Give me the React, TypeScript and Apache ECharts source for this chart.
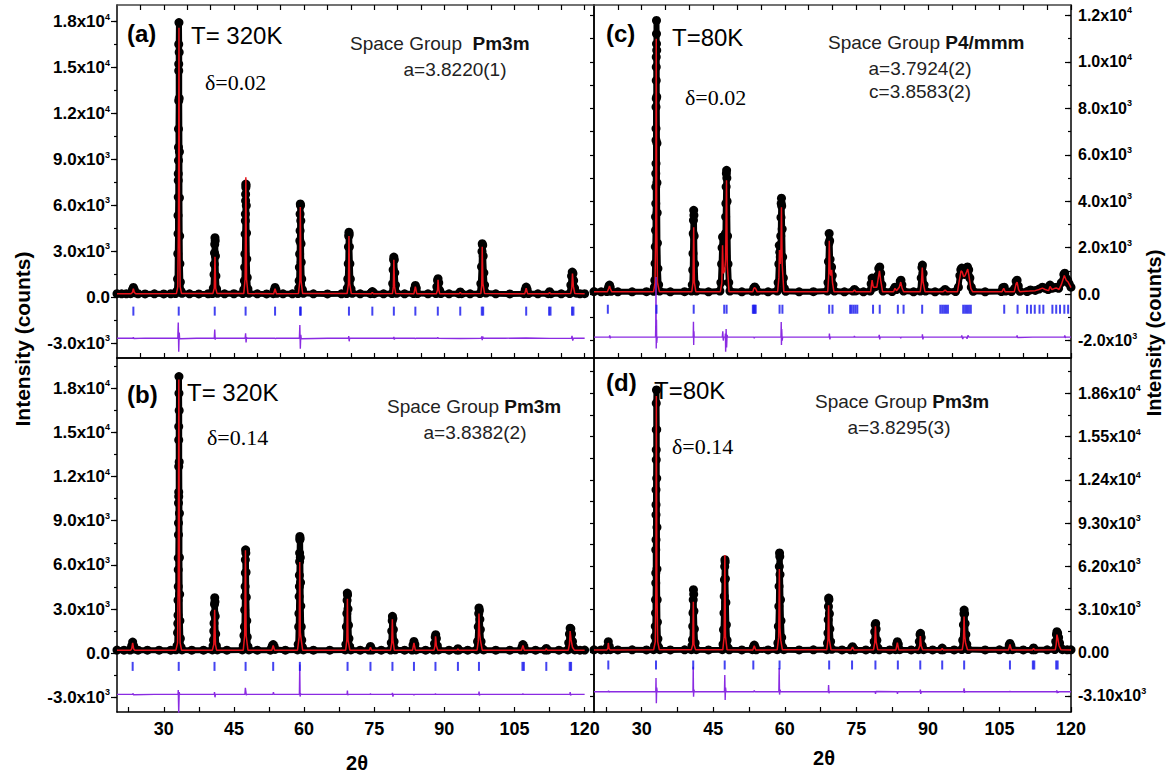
import React, { useEffect, useRef } from "react";
import * as echarts from "echarts";

type P = [number, number];

// ---------------- Panel (a): T = 320 K, delta = 0.02 ----------------
const obsA: P[] = [
  [20.0,240],[21.0,230],[22.0,235],[22.9,240],[23.1,300],[23.3,500],[23.5,650],[23.7,500],[23.9,300],
  [24.5,235],[26.0,225],[28.0,230],[30.0,225],[31.5,235],[32.5,250],
  [32.8,400],[32.95,1200],[33.0,2850],[33.05,4160],[33.05,5350],[33.1,6550],[33.1,7630],[33.1,8070],[33.15,8930],[33.15,9800],[33.15,11000],[33.2,12830],[33.2,14800],[33.2,15230],[33.2,16530],[33.25,17940],[33.3,16000],[33.3,13000],[33.35,9500],[33.35,6500],[33.4,4000],[33.45,2200],[33.55,1000],[33.7,400],[33.9,260],
  [35.5,230],[37.5,225],[39.5,235],[40.4,250],
  [40.6,600],[40.75,1500],[40.8,2160],[40.85,2900],[40.9,3460],[40.95,3900],[41.0,3700],[41.05,2700],[41.15,1400],[41.3,550],[41.5,260],
  [43.0,230],[45.0,235],[46.9,250],
  [47.1,500],[47.25,1090],[47.3,1960],[47.35,2830],[47.4,4130],[47.45,5000],[47.45,5440],[47.5,6300],[47.5,6740],[47.55,7170],[47.55,7400],[47.6,7300],[47.65,6000],[47.7,4200],[47.75,2500],[47.85,1300],[48.0,550],[48.2,260],
  [50.0,230],[52.0,225],[53.4,240],[53.6,450],[53.8,650],[54.0,480],[54.2,260],
  [55.5,230],[57.5,230],[58.7,250],
  [58.85,600],[58.95,1090],[59.0,1960],[59.05,2830],[59.1,3700],[59.15,4350],[59.15,5440],[59.2,6100],[59.25,6000],[59.3,5000],[59.35,3500],[59.4,2300],[59.5,1200],[59.65,500],[59.85,260],
  [62.0,230],[65.0,225],[68.0,230],[69.1,250],
  [69.25,600],[69.35,1200],[69.45,2200],[69.5,3300],[69.55,4000],[69.6,4250],[69.65,4100],[69.7,3300],[69.8,2200],[69.9,1200],[70.05,550],[70.3,260],
  [72.0,230],[74.2,240],[74.4,300],[74.6,380],[74.8,300],[75.0,240],
  [77.0,230],[78.8,250],[78.95,900],[79.05,1800],[79.15,2450],[79.2,2630],[79.3,2450],[79.4,1600],[79.55,800],[79.8,260],
  [81.5,230],[83.4,245],[83.6,550],[83.8,780],[84.0,600],[84.25,250],
  [86.5,230],[88.2,250],[88.4,700],[88.55,1100],[88.65,1220],[88.8,950],[89.0,450],[89.25,250],
  [91.0,230],[93.1,240],[93.4,350],[93.7,240],
  [95.5,230],[97.6,250],[97.8,900],[97.95,2000],[98.05,3000],[98.1,3500],[98.2,3400],[98.3,2700],[98.45,1600],[98.6,800],[98.9,280],
  [101.0,230],[104.0,225],[107.0,240],[107.3,500],[107.5,670],[107.7,520],[108.0,250],
  [110.0,230],[112.2,240],[112.5,370],[112.8,240],
  [115.0,230],[116.8,250],[117.05,800],[117.2,1400],[117.35,1650],[117.5,1550],[117.65,1100],[117.85,600],[118.2,270],
  [119.0,235],[120.0,240],
];
const calcA: P[] = [
  [20,240],[23.0,240],[23.3,320],[23.5,560],[23.7,320],[24.0,240],
  [32.7,245],[33.0,700],[33.15,5000],[33.25,17600],[33.35,5000],[33.5,700],[33.8,245],
  [40.5,245],[40.8,600],[40.95,2650],[41.1,600],[41.4,245],
  [47.1,245],[47.4,1200],[47.55,7850],[47.7,1200],[48.0,245],
  [53.5,240],[53.8,560],[54.1,240],
  [58.8,245],[59.1,1100],[59.2,5900],[59.35,1100],[59.7,245],
  [69.2,245],[69.5,900],[69.6,4000],[69.75,900],[70.1,245],
  [74.4,240],[74.6,330],[74.8,240],
  [78.9,245],[79.1,700],[79.2,2450],[79.35,700],[79.6,245],
  [83.5,240],[83.8,700],[84.1,240],
  [88.3,240],[88.55,500],[88.65,1150],[88.8,500],[89.0,240],
  [93.2,240],[93.4,330],[93.6,240],
  [97.8,245],[98.0,800],[98.1,3300],[98.25,900],[98.6,245],
  [107.2,240],[107.5,600],[107.8,240],
  [112.3,240],[112.5,330],[112.7,240],
  [117.0,245],[117.25,600],[117.4,1550],[117.6,700],[117.9,245],
  [120,240],
];
const diffA: P[] = [
  [20,-2670],[23.4,-2670],[23.5,-2600],[23.6,-2690],[26,-2660],[30,-2670],
  [33.0,-2670],[33.1,-1650],[33.2,-3550],[33.3,-2300],[33.4,-2700],[33.5,-2670],
  [37,-2670],[40.8,-2670],[40.9,-2100],[41.0,-2760],[41.1,-2670],
  [45,-2670],[47.4,-2670],[47.5,-2350],[47.6,-2950],[47.7,-2600],[47.8,-2670],
  [53.8,-2670],[53.9,-2720],[54.0,-2670],[56,-2670],
  [59.0,-2670],[59.1,-1800],[59.2,-3350],[59.3,-2450],[59.4,-2700],[59.5,-2670],
  [65,-2670],[69.5,-2670],[69.55,-2520],[69.65,-2870],[69.75,-2670],
  [74.6,-2670],[79.1,-2670],[79.2,-2580],[79.3,-2760],[79.4,-2670],
  [83.7,-2670],[83.8,-2720],[83.9,-2670],[88.5,-2670],[88.6,-2620],[88.7,-2670],[93.4,-2690],
  [97.9,-2670],[98.0,-2550],[98.1,-2800],[98.2,-2560],[98.3,-2670],
  [103,-2670],[107.5,-2650],[112.5,-2680],[117.2,-2670],[117.3,-2520],[117.45,-2820],[117.6,-2670],[120,-2670],
];
const braggA: number[] = [23.5, 33.2, 40.9, 47.5, 53.8, 59.15, 59.3, 69.6, 74.6, 79.2, 83.8, 88.6, 93.4, 98.0, 98.3, 107.5, 112.4, 112.7, 117.3, 117.6];
const braggLevelA = -900;
const yTicksA: number[] = [-3000, 0, 3000, 6000, 9000, 12000, 15000, 18000];
const yLabelsA: string[] = ["-3.0x10|3", "0.0", "3.0x10|3", "6.0x10|3", "9.0x10|3", "1.2x10|4", "1.5x10|4", "1.8x10|4"];

// ---------------- Panel (b): T = 320 K, delta = 0.14 ----------------
const obsB: P[] = [
  [20,210],[21.5,200],[22.8,215],[23.0,300],[23.15,500],[23.35,750],[23.55,500],[23.75,280],
  [24.5,205],[26.5,200],[29,200],[31.5,205],[32.6,230],
  [32.85,500],[32.95,1390],[33.0,2020],[33.05,2580],[33.05,3600],[33.1,4530],[33.1,5670],[33.1,6460],[33.15,8040],[33.15,8840],[33.15,10200],[33.2,10640],[33.2,10950],[33.2,12680],[33.2,14490],[33.2,15400],[33.25,17660],[33.25,18800],[33.3,16500],[33.3,13000],[33.35,9500],[33.35,6500],[33.4,4000],[33.45,2200],[33.55,1000],[33.7,400],[33.9,220],
  [36,200],[38.5,205],[40.4,220],
  [40.55,500],[40.65,900],[40.7,1500],[40.75,2040],[40.8,2700],[40.85,3320],[40.9,3770],[40.95,3500],[41.0,2500],[41.1,1300],[41.25,500],[41.45,220],
  [43.5,200],[46.8,220],
  [47.0,500],[47.15,1200],[47.25,1800],[47.3,2940],[47.35,3850],[47.4,4530],[47.45,5440],[47.45,6340],[47.5,7020],[47.55,6800],[47.6,5500],[47.65,3800],[47.75,2200],[47.85,1100],[48.0,450],[48.2,220],
  [50,200],[52.8,205],[53.0,300],[53.2,480],[53.4,580],[53.6,450],[53.8,250],
  [56,200],[58.6,220],
  [58.75,600],[58.85,1800],[58.9,2700],[58.95,3850],[59.0,4530],[59.0,5300],[59.05,6230],[59.05,6800],[59.1,7700],[59.1,7930],[59.15,7800],[59.2,6500],[59.25,4800],[59.3,3200],[59.4,1800],[59.5,900],[59.65,400],[59.85,220],
  [62,200],[65.5,205],[68.8,220],
  [68.95,600],[69.05,1800],[69.15,2700],[69.2,3600],[69.25,4080],[69.3,3950],[69.4,3000],[69.5,1900],[69.6,1000],[69.75,450],[70.0,220],
  [72,200],[73.9,210],[74.05,320],[74.2,460],[74.35,320],[74.55,210],
  [76.5,200],[78.5,215],[78.65,700],[78.75,1500],[78.85,2200],[78.9,2500],[79.0,2350],[79.1,1600],[79.25,800],[79.5,230],
  [81.5,200],[83.1,215],[83.3,550],[83.5,800],[83.7,580],[83.95,220],
  [86,200],[87.7,215],[87.9,650],[88.05,1100],[88.15,1250],[88.3,1000],[88.5,500],[88.75,220],
  [91,200],[92.7,210],[92.9,300],[93.1,210],
  [95,200],[96.9,220],[97.1,800],[97.25,1800],[97.35,2700],[97.4,3070],[97.5,2900],[97.6,2300],[97.7,1600],[97.85,800],[98.1,300],[98.4,220],
  [101,200],[104,200],[106.4,210],[106.6,400],[106.8,580],[107.0,450],[107.3,210],
  [109.5,200],[111.5,210],[111.8,320],[112.1,210],
  [114.5,200],[116.4,220],[116.6,700],[116.75,1300],[116.9,1700],[117.05,1650],[117.2,1300],[117.4,800],[117.6,400],[117.9,220],
  [119,205],[120,210],
];
const calcB: P[] = [
  [20,200],[22.9,200],[23.15,300],[23.35,700],[23.55,300],[23.8,200],
  [32.6,205],[32.95,700],[33.1,5000],[33.22,18600],[33.35,5000],[33.5,700],[33.8,205],
  [40.4,205],[40.7,600],[40.88,2950],[41.05,600],[41.3,205],
  [47.0,205],[47.3,1200],[47.47,7000],[47.62,1200],[48.0,205],
  [53.1,200],[53.4,520],[53.7,200],
  [58.6,205],[58.95,1100],[59.08,6200],[59.2,1400],[59.35,1000],[59.7,205],
  [68.9,205],[69.15,900],[69.27,3700],[69.4,900],[69.8,205],
  [73.95,200],[74.2,400],[74.45,200],
  [78.5,205],[78.75,700],[78.88,2300],[79.0,900],[79.3,205],
  [83.2,200],[83.5,700],[83.8,200],
  [87.8,200],[88.0,500],[88.12,1150],[88.3,500],[88.6,200],
  [92.7,200],[92.9,290],[93.1,200],
  [97.0,205],[97.25,800],[97.4,2700],[97.55,1300],[97.7,900],[98.1,205],
  [106.5,200],[106.8,530],[107.1,200],
  [111.6,200],[111.8,300],[112.0,200],
  [116.5,205],[116.75,600],[116.9,1500],[117.1,900],[117.4,400],[117.8,205],
  [120,200],
];
const diffB: P[] = [
  [20,-2800],[23.35,-2800],[23.4,-2730],[23.5,-2830],[23.6,-2800],[28,-2800],
  [33.05,-2800],[33.1,-2500],[33.2,-4100],[33.3,-2650],[33.4,-2800],
  [38,-2800],[40.8,-2800],[40.85,-2650],[40.95,-3000],[41.05,-2800],
  [45,-2800],[47.35,-2800],[47.45,-2350],[47.55,-2600],[47.65,-2850],[47.75,-2800],
  [53.35,-2800],[53.45,-2650],[53.55,-2800],
  [56.5,-2800],[59.0,-2800],[59.08,-780],[59.15,-2950],[59.25,-2750],[59.35,-2800],
  [65,-2800],[69.2,-2800],[69.27,-2550],[69.35,-2850],[69.45,-2800],
  [74.1,-2800],[74.2,-2760],[74.3,-2800],[78.8,-2800],[78.9,-2700],[79.0,-2950],[79.1,-2800],
  [83.4,-2800],[83.5,-2850],[83.6,-2800],[88.0,-2800],[88.1,-2760],[88.2,-2800],[92.9,-2800],
  [97.35,-2800],[97.42,-2620],[97.5,-2870],[97.6,-2800],
  [103,-2800],[106.7,-2800],[106.8,-2760],[106.9,-2800],[111.8,-2800],[116.85,-2800],[116.9,-2650],[117.0,-2880],[117.1,-2800],[120,-2800],
];
const braggB: number[] = [23.35, 33.2, 40.85, 47.5, 53.4, 59.1, 69.3, 74.2, 78.9, 83.5, 88.1, 92.9, 97.4, 106.7, 107.0, 111.8, 116.8, 117.1];
const braggLevelB = -900;
const yTicksB: number[] = [-3000, 0, 3000, 6000, 9000, 12000, 15000, 18000];
const yLabelsB: string[] = ["-3.0x10|3", "0.0", "3.0x10|3", "6.0x10|3", "9.0x10|3", "1.2x10|4", "1.5x10|4", "1.8x10|4"];

// ---------------- Panel (c): T = 80 K, delta = 0.02 ----------------
const obsC: P[] = [
  [20,110],[21.5,100],[22.7,110],[22.9,200],[23.1,330],[23.25,390],[23.4,300],[23.6,120],
  [25,100],[28,100],[31,105],[32.5,120],
  [32.65,300],[32.75,600],[32.8,1320],[32.85,2040],[32.9,2750],[32.9,3330],[32.95,3900],[32.95,4620],[32.95,5190],[33.0,5620],[33.0,6630],[33.0,7130],[33.0,8060],[33.05,8420],[33.05,9200],[33.05,9780],[33.05,10210],[33.1,10780],[33.1,11210],[33.1,11785],[33.15,10500],[33.15,8500],[33.2,6500],[33.2,4800],[33.25,3500],[33.3,2200],[33.4,1100],[33.55,400],[33.75,130],
  [36,100],[39,105],[40.45,130],[40.6,400],[40.7,1040],[40.75,1750],[40.8,2610],[40.85,3180],[40.9,3610],[40.95,3400],[41.0,2500],[41.1,1300],[41.25,450],[41.45,130],
  [44,100],[46.4,130],[46.6,500],[46.75,1300],[46.85,2000],[46.95,2460],[47.05,2000],[47.15,1500],[47.3,1400],[47.45,1700],[47.55,2610],[47.6,3330],[47.65,3900],[47.7,4620],[47.75,5190],[47.8,5330],[47.85,5000],[47.9,4000],[48.0,2500],[48.1,1300],[48.25,500],[48.5,130],
  [51,100],[53.2,120],[53.5,260],[53.7,310],[53.9,250],[54.2,120],
  [56.5,100],[58.4,130],[58.6,500],[58.75,1300],[58.85,2100],[58.95,1800],[59.05,1600],[59.15,2500],[59.2,3300],[59.25,3900],[59.3,4130],[59.35,3800],[59.45,2800],[59.55,1600],[59.7,700],[59.9,250],[60.2,120],
  [63,100],[66,105],[68.9,130],[69.05,500],[69.15,1400],[69.25,2200],[69.3,2610],[69.4,2300],[69.5,1500],[69.65,1100],[69.8,1170],[69.95,800],[70.1,400],[70.4,130],
  [72.5,100],[74.3,130],[74.6,200],[74.9,140],[76.5,100],
  [77.9,130],[78.1,450],[78.3,690],[78.5,500],[78.75,300],[79.2,350],[79.5,800],[79.7,1100],[79.9,1170],[80.1,900],[80.35,400],[80.6,130],
  [82.5,110],[82.9,220],[83.1,300],[83.4,200],[84.0,350],[84.2,550],[84.35,600],[84.55,400],[84.9,130],
  [87,100],[88.4,130],[88.6,700],[88.75,1150],[88.85,1250],[89.0,900],[89.2,400],[89.5,130],
  [91.5,100],[93.2,130],[93.6,200],[94.0,130],
  [95.8,110],[96.4,300],[96.7,800],[96.9,1050],[97.1,1120],[97.4,900],[97.7,850],[98.0,1000],[98.3,1170],[98.55,1050],[98.8,700],[99.1,300],[99.5,120],
  [102,100],[105.4,110],[105.7,280],[106.0,300],[106.3,130],
  [107.5,110],[108.2,250],[108.5,550],[108.7,600],[108.95,350],[109.3,120],
  [110.8,110],[111.5,180],[112.5,160],[113.3,220],[114,300],[114.6,250],
  [115.2,200],[115.6,390],[116.0,250],[116.6,280],[117.0,300],[117.4,250],[118.0,500],[118.5,850],[118.7,900],[118.95,700],[119.3,600],[119.6,450],[120,300],
];
const calcC: P[] = [
  [20,100],[22.8,100],[23.1,250],[23.25,350],[23.4,250],[23.7,100],
  [32.5,105],[32.8,500],[32.95,3000],[33.05,11000],[33.15,3000],[33.3,500],[33.7,105],
  [40.5,105],[40.75,500],[40.9,2880],[41.05,500],[41.35,105],
  [46.5,105],[46.8,500],[46.95,2100],[47.1,900],[47.4,1000],[47.6,1500],[47.78,4900],[47.95,1200],[48.3,105],
  [53.3,100],[53.5,250],[53.7,280],[53.9,230],[54.2,100],
  [58.5,105],[58.75,700],[58.88,1900],[59.05,1300],[59.2,2000],[59.3,3740],[59.45,1300],[59.8,105],
  [69.0,105],[69.2,800],[69.32,2300],[69.5,900],[69.65,800],[69.82,1050],[70.0,500],[70.3,105],
  [74.3,100],[74.6,180],[74.9,100],
  [78.0,100],[78.3,600],[78.55,300],[79.3,300],[79.6,700],[79.85,1000],[80.1,600],[80.5,100],
  [82.8,100],[83.1,250],[83.4,150],[84.0,300],[84.3,520],[84.6,250],[84.9,100],
  [88.4,100],[88.65,500],[88.82,1150],[89.0,500],[89.4,100],
  [93.2,100],[93.6,180],[94.0,100],
  [96.2,100],[96.6,600],[96.95,1000],[97.2,950],[97.5,750],[97.8,800],[98.1,950],[98.35,1080],[98.6,800],[99.0,250],[99.4,100],
  [105.5,100],[105.9,250],[106.2,100],
  [108.1,100],[108.5,450],[108.7,520],[109.0,200],[109.3,100],
  [111.3,130],[112.5,150],[113.3,200],[114,260],[114.6,200],
  [115.3,150],[115.6,330],[116.0,200],[116.6,250],[117.0,260],[117.5,200],[118.0,430],[118.6,800],[119.0,600],[119.4,520],[119.7,400],[120,280],
];
const diffC: P[] = [
  [20,-1850],[23.2,-1850],[23.3,-1780],[23.4,-1900],[23.5,-1850],
  [28,-1850],[32.9,-1850],[32.95,-1300],[33.0,740],[33.05,-2340],[33.1,-1100],[33.15,-2100],[33.25,-1850],
  [37,-1850],[40.8,-1850],[40.85,-1190],[40.9,-2190],[40.95,-1600],[41.0,-1850],
  [44,-1850],[46.9,-1850],[47.0,-1600],[47.1,-2000],[47.2,-1850],[47.5,-1850],[47.55,-1700],[47.6,-2480],[47.7,-1500],[47.8,-2300],[47.9,-1750],[48.0,-1850],
  [53.5,-1850],[53.6,-1900],[53.7,-1850],[56,-1850],[59.2,-1850],[59.25,-1200],[59.3,-2190],[59.35,-1500],[59.45,-2000],[59.55,-1850],
  [64,-1850],[69.3,-1850],[69.35,-1700],[69.45,-1950],[69.55,-1850],
  [74.5,-1850],[74.6,-1810],[74.7,-1850],[79.7,-1850],[79.8,-1750],[79.9,-1950],[80.0,-1850],
  [84.2,-1850],[84.3,-1900],[84.4,-1850],[88.8,-1850],[88.85,-1730],[88.95,-1950],[89.05,-1850],
  [93.6,-1850],[97.0,-1850],[97.1,-1780],[97.3,-1930],[97.45,-1850],[98.1,-1850],[98.2,-1920],[98.4,-1780],[98.6,-1850],
  [103,-1850],[106,-1850],[108.6,-1850],[108.7,-1780],[108.8,-1870],[108.9,-1850],
  [112,-1850],[114,-1850],[118.6,-1850],[118.7,-1780],[118.8,-1880],[118.9,-1850],[120,-1850],
];
const braggC: number[] = [22.9, 33.1, 40.9, 47.3, 47.8, 53.3, 53.5, 53.7, 53.9, 58.9, 59.5, 69.3, 70.0, 73.7, 74.0, 74.4, 74.8, 75.2, 78.5, 79.9, 83.7, 84.9, 88.8, 92.6, 93.0, 93.4, 93.8, 94.2, 97.4, 97.8, 98.2, 98.6, 99.0, 106.0, 108.8, 110.8, 111.6, 112.4, 113.4, 114.2, 116.1, 116.9, 117.7, 118.6, 119.4];
const braggLevelC = -650;
const yTicksC: number[] = [-2000, 0, 2000, 4000, 6000, 8000, 10000, 12000];
const yLabelsC: string[] = ["-2.0x10|3", "0.0", "2.0x10|3", "4.0x10|3", "6.0x10|3", "8.0x10|3", "1.0x10|4", "1.2x10|4"];

// ---------------- Panel (d): T = 80 K, delta = 0.14 ----------------
const obsD: P[] = [
  [20,210],[21.5,200],[22.6,215],[22.8,400],[23.0,790],[23.2,450],[23.4,220],
  [25,200],[28,205],[31,200],[32.5,220],
  [32.7,500],[32.8,1170],[32.85,1890],[32.9,2840],[32.9,3800],[32.95,4990],[32.95,5710],[32.95,7380],[33.0,8100],[33.0,9890],[33.0,10610],[33.0,11680],[33.05,13830],[33.05,14550],[33.05,15980],[33.05,17890],[33.1,18840],[33.15,16000],[33.15,12500],[33.2,9000],[33.2,6000],[33.25,3800],[33.3,2200],[33.4,1000],[33.55,400],[33.8,220],
  [36,200],[39,205],[40.4,220],[40.55,500],[40.65,930],[40.7,1890],[40.75,2840],[40.8,3800],[40.85,4520],[40.9,4200],[40.95,3000],[41.05,1700],[41.2,700],[41.45,220],
  [44,200],[46.9,220],[47.05,600],[47.15,1650],[47.25,2840],[47.3,4040],[47.35,5240],[47.4,6190],[47.45,6670],[47.5,6500],[47.55,5300],[47.65,3600],[47.75,2000],[47.9,900],[48.1,350],[48.35,210],
  [51,200],[53.2,215],[53.4,400],[53.6,550],[53.8,380],[54.0,210],
  [56.5,200],[58.4,220],[58.55,700],[58.65,1890],[58.75,3330],[58.8,4760],[58.85,6190],[58.9,7150],[58.95,6900],[59.0,5600],[59.1,3800],[59.2,2300],[59.35,1100],[59.55,400],[59.8,220],
  [63,200],[66,205],[68.8,220],[68.95,700],[69.05,1410],[69.1,2370],[69.15,3320],[69.2,3920],[69.25,3800],[69.35,2800],[69.45,1700],[69.6,800],[69.85,250],
  [72,200],[73.8,210],[74.05,350],[74.2,430],[74.4,300],[74.65,210],
  [77,200],[78.6,220],[78.75,800],[78.85,1500],[78.95,2000],[79.05,2100],[79.15,1700],[79.3,900],[79.5,350],[79.75,210],
  [82,200],[83.2,220],[83.45,600],[83.6,790],[83.8,600],[84.1,220],
  [86.5,200],[88.0,220],[88.2,800],[88.35,1300],[88.45,1390],[88.6,1100],[88.8,500],[89.1,220],
  [91,200],[92.8,210],[93.0,330],[93.2,210],
  [95.5,200],[97.1,230],[97.3,900],[97.45,2000],[97.55,2800],[97.6,3060],[97.7,2800],[97.8,2100],[97.95,1300],[98.15,600],[98.45,230],
  [102,200],[105,205],[106.8,220],[107.05,550],[107.2,670],[107.4,500],[107.7,220],
  [110,200],[111.9,210],[112.15,340],[112.4,210],
  [115,205],[116.6,230],[116.8,800],[116.95,1300],[117.05,1510],[117.2,1400],[117.4,1100],[117.6,700],[117.85,350],[118.2,220],
  [119.2,210],[120,210],
];
const calcD: P[] = [
  [20,200],[22.7,200],[22.9,300],[23.0,700],[23.15,300],[23.4,200],
  [32.5,205],[32.85,800],[32.98,5000],[33.07,18400],[33.17,5000],[33.35,800],[33.7,205],
  [40.4,205],[40.7,600],[40.83,3660],[40.95,600],[41.3,205],
  [47.0,205],[47.3,1200],[47.43,7000],[47.56,1200],[47.9,205],
  [53.3,200],[53.6,500],[53.9,200],
  [58.4,205],[58.72,1100],[58.86,6000],[58.98,1800],[59.15,900],[59.5,205],
  [68.8,205],[69.05,900],[69.18,3400],[69.3,1000],[69.7,205],
  [73.9,200],[74.2,400],[74.5,200],
  [78.6,205],[78.85,700],[79.0,1900],[79.15,800],[79.5,205],
  [83.3,200],[83.6,720],[83.9,200],
  [88.0,205],[88.3,500],[88.42,1200],[88.6,500],[88.9,205],
  [92.8,200],[93.0,300],[93.2,200],
  [97.2,205],[97.45,800],[97.58,2600],[97.72,1200],[97.9,700],[98.3,205],
  [106.9,200],[107.2,600],[107.5,200],
  [111.9,200],[112.15,300],[112.4,200],
  [116.7,205],[116.9,600],[117.05,1300],[117.25,1000],[117.5,500],[117.9,205],
  [120,200],
];
const diffD: P[] = [
  [20,-2800],[23.0,-2800],[23.05,-2720],[23.15,-2840],[23.25,-2800],
  [28,-2800],[32.95,-2800],[33.0,-1810],[33.07,-3630],[33.15,-2500],[33.25,-2800],
  [37,-2800],[40.75,-2800],[40.8,-1000],[40.87,-3150],[40.95,-2650],[41.05,-2800],
  [44,-2800],[47.35,-2800],[47.42,-1600],[47.5,-3390],[47.58,-2500],[47.68,-2800],
  [53.5,-2800],[53.6,-2700],[53.7,-2800],[56,-2800],[58.75,-2800],[58.82,-1100],[58.9,-3000],[59.0,-2650],[59.1,-2800],
  [64,-2800],[69.12,-2800],[69.18,-2320],[69.26,-2900],[69.35,-2800],
  [74.1,-2800],[74.2,-2770],[74.3,-2800],[78.95,-2800],[79.02,-2950],[79.1,-2780],[79.2,-2800],
  [83.55,-2800],[83.62,-2950],[83.7,-2800],[88.35,-2800],[88.42,-2650],[88.5,-2950],[88.6,-2800],
  [93,-2800],[97.5,-2800],[97.58,-2550],[97.66,-2880],[97.75,-2750],[97.85,-2800],
  [103,-2800],[107.1,-2800],[107.2,-2760],[107.3,-2800],[112.15,-2800],[116.95,-2800],[117.02,-2700],[117.1,-2900],[117.2,-2780],[117.35,-2850],[117.5,-2800],[120,-2800],
];
const braggD: number[] = [23.0, 33.0, 40.8, 47.4, 53.4, 58.9, 69.3, 74.1, 79.0, 83.7, 88.4, 93.0, 97.6, 107.2, 112.0, 112.3, 116.9, 117.2];
const braggLevelD = -880;
const yTicksD: number[] = [-3100, 0, 3100, 6200, 9300, 12400, 15500, 18600];
const yLabelsD: string[] = ["-3.10x10|3", "0.00", "3.10x10|3", "6.20x10|3", "9.30x10|3", "1.24x10|4", "1.55x10|4", "1.86x10|4"];

// shared x-axis tick labels (2θ)
const xTickLabels: number[] = [30, 45, 60, 75, 90, 105, 120];

const SANS = '"Liberation Sans", Arial, Helvetica, sans-serif';
const SERIF = '"Liberation Serif", "Times New Roman", serif';

function steps(a: number, b: number, s: number): number[] {
  const out: number[] = [];
  for (let v = a; v <= b + 1e-9; v += s) out.push(Math.round(v * 1000) / 1000);
  return out;
}

function makeFormatter(vals: number[], labels: string[]) {
  return (v: number) => {
    const i = vals.findIndex((t) => Math.abs(t - v) < 1e-6);
    if (i < 0) return "";
    const parts = labels[i].split("|");
    return parts.length > 1 ? `{m|${parts[0]}}{e|${parts[1]}}` : `{m|${parts[0]}}`;
  };
}

const AX = "#000";

function buildOption() {
  const panels = [
    { grid: { left: 117, top: 5, width: 477, height: 353 }, xMax: 122, yMin: -3960, yMax: 19090,
      obs: obsA, calc: calcA, diff: diffA, bragg: braggA, level: braggLevelA,
      yVals: yTicksA, yLabs: yLabelsA, ySide: "left", yMinor: steps(-3000, 18000, 1500), other: null as number[] | null,
      xTicks: steps(25, 120, 5), topTicks: steps(25, 120, 5), showX: false, labSize: 17 },
    { grid: { left: 117, top: 358, width: 477, height: 354 }, xMax: 122, yMin: -4000, yMax: 20060,
      obs: obsB, calc: calcB, diff: diffB, bragg: braggB, level: braggLevelB,
      yVals: yTicksB, yLabs: yLabelsB, ySide: "left", yMinor: steps(-3000, 19500, 1500), other: null,
      xTicks: steps(22.5, 120, 7.5), topTicks: [] as number[], showX: true, labSize: 17 },
    { grid: { left: 594, top: 5, width: 477, height: 353 }, xMax: 120, yMin: -2750, yMax: 12450,
      obs: obsC, calc: calcC, diff: diffC, bragg: braggC, level: braggLevelC,
      yVals: yTicksC, yLabs: yLabelsC, ySide: "right", yMinor: steps(-2000, 12000, 1000), other: steps(-2000, 12000, 1000),
      xTicks: steps(25, 120, 5), topTicks: steps(25, 120, 5), showX: false, labSize: 16 },
    { grid: { left: 594, top: 358, width: 477, height: 354 }, xMax: 120, yMin: -4250, yMax: 21130,
      obs: obsD, calc: calcD, diff: diffD, bragg: braggD, level: braggLevelD,
      yVals: yTicksD, yLabs: yLabelsD, ySide: "right", yMinor: steps(-3100, 20150, 1550), other: steps(-3100, 20150, 1550),
      xTicks: steps(22.5, 120, 7.5), topTicks: [] as number[], showX: true, labSize: 16 },
  ];

  const grid: any[] = [];
  const xAxis: any[] = [];
  const yAxis: any[] = [];
  const series: any[] = [];

  panels.forEach((p, gi) => {
    grid.push({ ...p.grid, containLabel: false, show: false });
    const xBottom = xAxis.length;
    xAxis.push({
      type: "value", gridIndex: gi, position: "bottom", min: 20, max: p.xMax,
      axisLine: { show: true, onZero: false, lineStyle: { color: AX, width: 1.5 } },
      axisTick: { show: true, inside: true, length: 5, customValues: p.xTicks, lineStyle: { color: AX, width: 1.2 } },
      axisLabel: {
        show: p.showX, customValues: xTickLabels, margin: 8, color: "#000",
        fontSize: 18, fontWeight: "bold", fontFamily: SANS,
      },
      splitLine: { show: false },
    });
    xAxis.push({
      type: "value", gridIndex: gi, position: "top", min: 20, max: p.xMax,
      axisLine: { show: true, onZero: false, lineStyle: { color: gi % 2 === 0 ? "#444" : AX, width: 1.5 } },
      axisTick: { show: p.topTicks.length > 0, inside: true, length: 5, customValues: p.topTicks, lineStyle: { color: AX, width: 1.2 } },
      axisLabel: { show: false },
      splitLine: { show: false },
    });
    const yMain = yAxis.length;
    const right = p.ySide === "right";
    yAxis.push({
      type: "value", gridIndex: gi, position: p.ySide, min: p.yMin, max: p.yMax,
      axisLine: { show: true, onZero: false, lineStyle: { color: AX, width: 1.5 } },
      axisTick: { show: true, inside: right, length: 6, customValues: p.yVals, lineStyle: { color: AX, width: 1.2 } },
      axisLabel: {
        show: true, customValues: p.yVals, margin: 7,
        formatter: makeFormatter(p.yVals, p.yLabs),
        rich: {
          m: { fontSize: p.labSize, fontWeight: "bold", fontFamily: SANS, color: "#000" },
          e: { fontSize: 9, fontWeight: "bold", fontFamily: SANS, color: "#000", verticalAlign: "bottom", padding: [0, 0, 10, 0] },
        },
      },
      splitLine: { show: false },
    });
    yAxis.push({
      type: "value", gridIndex: gi, position: p.ySide, min: p.yMin, max: p.yMax,
      axisLine: { show: false },
      axisTick: { show: true, inside: right, length: 3, customValues: p.yMinor, lineStyle: { color: AX, width: 1.2 } },
      axisLabel: { show: false },
      splitLine: { show: false },
    });
    yAxis.push({
      type: "value", gridIndex: gi, position: right ? "left" : "right", min: p.yMin, max: p.yMax,
      axisLine: { show: true, onZero: false, lineStyle: { color: AX, width: 1.5 } },
      axisTick: { show: !!p.other, inside: false, length: 4, customValues: p.other || [], lineStyle: { color: AX, width: 1.2 } },
      axisLabel: { show: false },
      splitLine: { show: false },
    });

    series.push({
      type: "line", xAxisIndex: xBottom, yAxisIndex: yMain, data: p.obs,
      symbol: "circle", symbolSize: 9, showSymbol: true,
      itemStyle: { color: "#000" },
      lineStyle: { color: "#000", width: 6, join: "round", cap: "round" },
      z: 2, silent: true,
    });
    series.push({
      type: "line", xAxisIndex: xBottom, yAxisIndex: yMain, data: p.calc,
      symbol: "none", lineStyle: { color: "#e8121a", width: 1.5 }, z: 3, silent: true,
    });
    series.push({
      type: "scatter", xAxisIndex: xBottom, yAxisIndex: yMain,
      data: p.bragg.map((x) => [x, p.level]),
      symbol: "rect", symbolSize: [2, 9], itemStyle: { color: "#1414ee" }, z: 3, silent: true,
    });
    series.push({
      type: "line", xAxisIndex: xBottom, yAxisIndex: yMain, data: p.diff,
      symbol: "none", lineStyle: { color: "#8a2be2", width: 1.4 }, z: 3, silent: true,
    });
  });

  const txt = (text: string, x: number, y: number, size: number, o: any = {}) => ({
    type: "text", x, y, rotation: o.rotation || 0, silent: true, z: 100,
    style: {
      text, fill: o.color || "#000",
      fontSize: size, fontWeight: o.bold ? "bold" : "normal", fontFamily: o.family || SANS,
      align: o.align || "left", verticalAlign: "middle",
      textAlign: o.align || "left", textVerticalAlign: "middle",
      rich: o.rich,
    },
  });
  const sgRich = {
    b: { fontSize: 19, fontWeight: "bold", fontFamily: SANS, fill: "#111", color: "#111" },
  };

  const graphic = [
    txt("(a)", 127, 33, 24, { bold: true }),
    txt("T= 320K", 191, 35, 24),
    txt("δ=0.02", 205, 82, 22, { family: SERIF }),
    txt("Space Group  {b|Pm3m}", 350, 43, 19, { rich: sgRich, color: "#222" }),
    txt("a=3.8220(1)", 455, 69, 19, { align: "center", color: "#222" }),

    txt("(b)", 127, 394, 24, { bold: true }),
    txt("T= 320K", 187, 392, 24),
    txt("δ=0.14", 207, 437, 22, { family: SERIF }),
    txt("Space Group {b|Pm3m}", 387, 406, 19, { rich: sgRich, color: "#222" }),
    txt("a=3.8382(2)", 475, 432, 19, { align: "center", color: "#222" }),

    txt("(c)", 606, 33, 24, { bold: true }),
    txt("T=80K", 672, 37, 24),
    txt("δ=0.02", 685, 97, 22, { family: SERIF }),
    txt("Space Group {b|P4/mmm}", 828, 42, 19, { rich: sgRich, color: "#222" }),
    txt("a=3.7924(2)", 920, 68, 19, { align: "center", color: "#222" }),
    txt("c=3.8583(2)", 920, 91, 19, { align: "center", color: "#222" }),

    txt("(d)", 606, 382, 24, { bold: true }),
    txt("T=80K", 654, 390, 24),
    txt("δ=0.14", 672, 446, 22, { family: SERIF }),
    txt("Space Group {b|Pm3m}", 815, 401, 19, { rich: sgRich, color: "#222" }),
    txt("a=3.8295(3)", 899, 427, 19, { align: "center", color: "#222" }),

    txt("Intensity (counts)", 22, 339, 21, { bold: true, align: "center", rotation: Math.PI / 2 }),
    txt("Intensity (counts)", 1154, 333, 20, { bold: true, align: "center", rotation: Math.PI / 2 }),
    txt("2θ", 357, 763, 20, { bold: true, align: "center" }),
    txt("2θ", 824, 758, 20, { bold: true, align: "center" }),
  ];

  return { animation: false, backgroundColor: "#fff", grid, xAxis, yAxis, series, graphic };
}

export default function App() {
  const ref = useRef<HTMLDivElement>(null);
  useEffect(() => {
    if (!ref.current) return;
    const chart = echarts.init(ref.current, undefined, { renderer: "svg" });
    chart.setOption(buildOption() as any);
    return () => chart.dispose();
  }, []);
  return (
    <div
      ref={ref}
      style={{ position: "fixed", left: 0, top: 0, width: 1166, height: 774, background: "#fff" }}
    />
  );
}
